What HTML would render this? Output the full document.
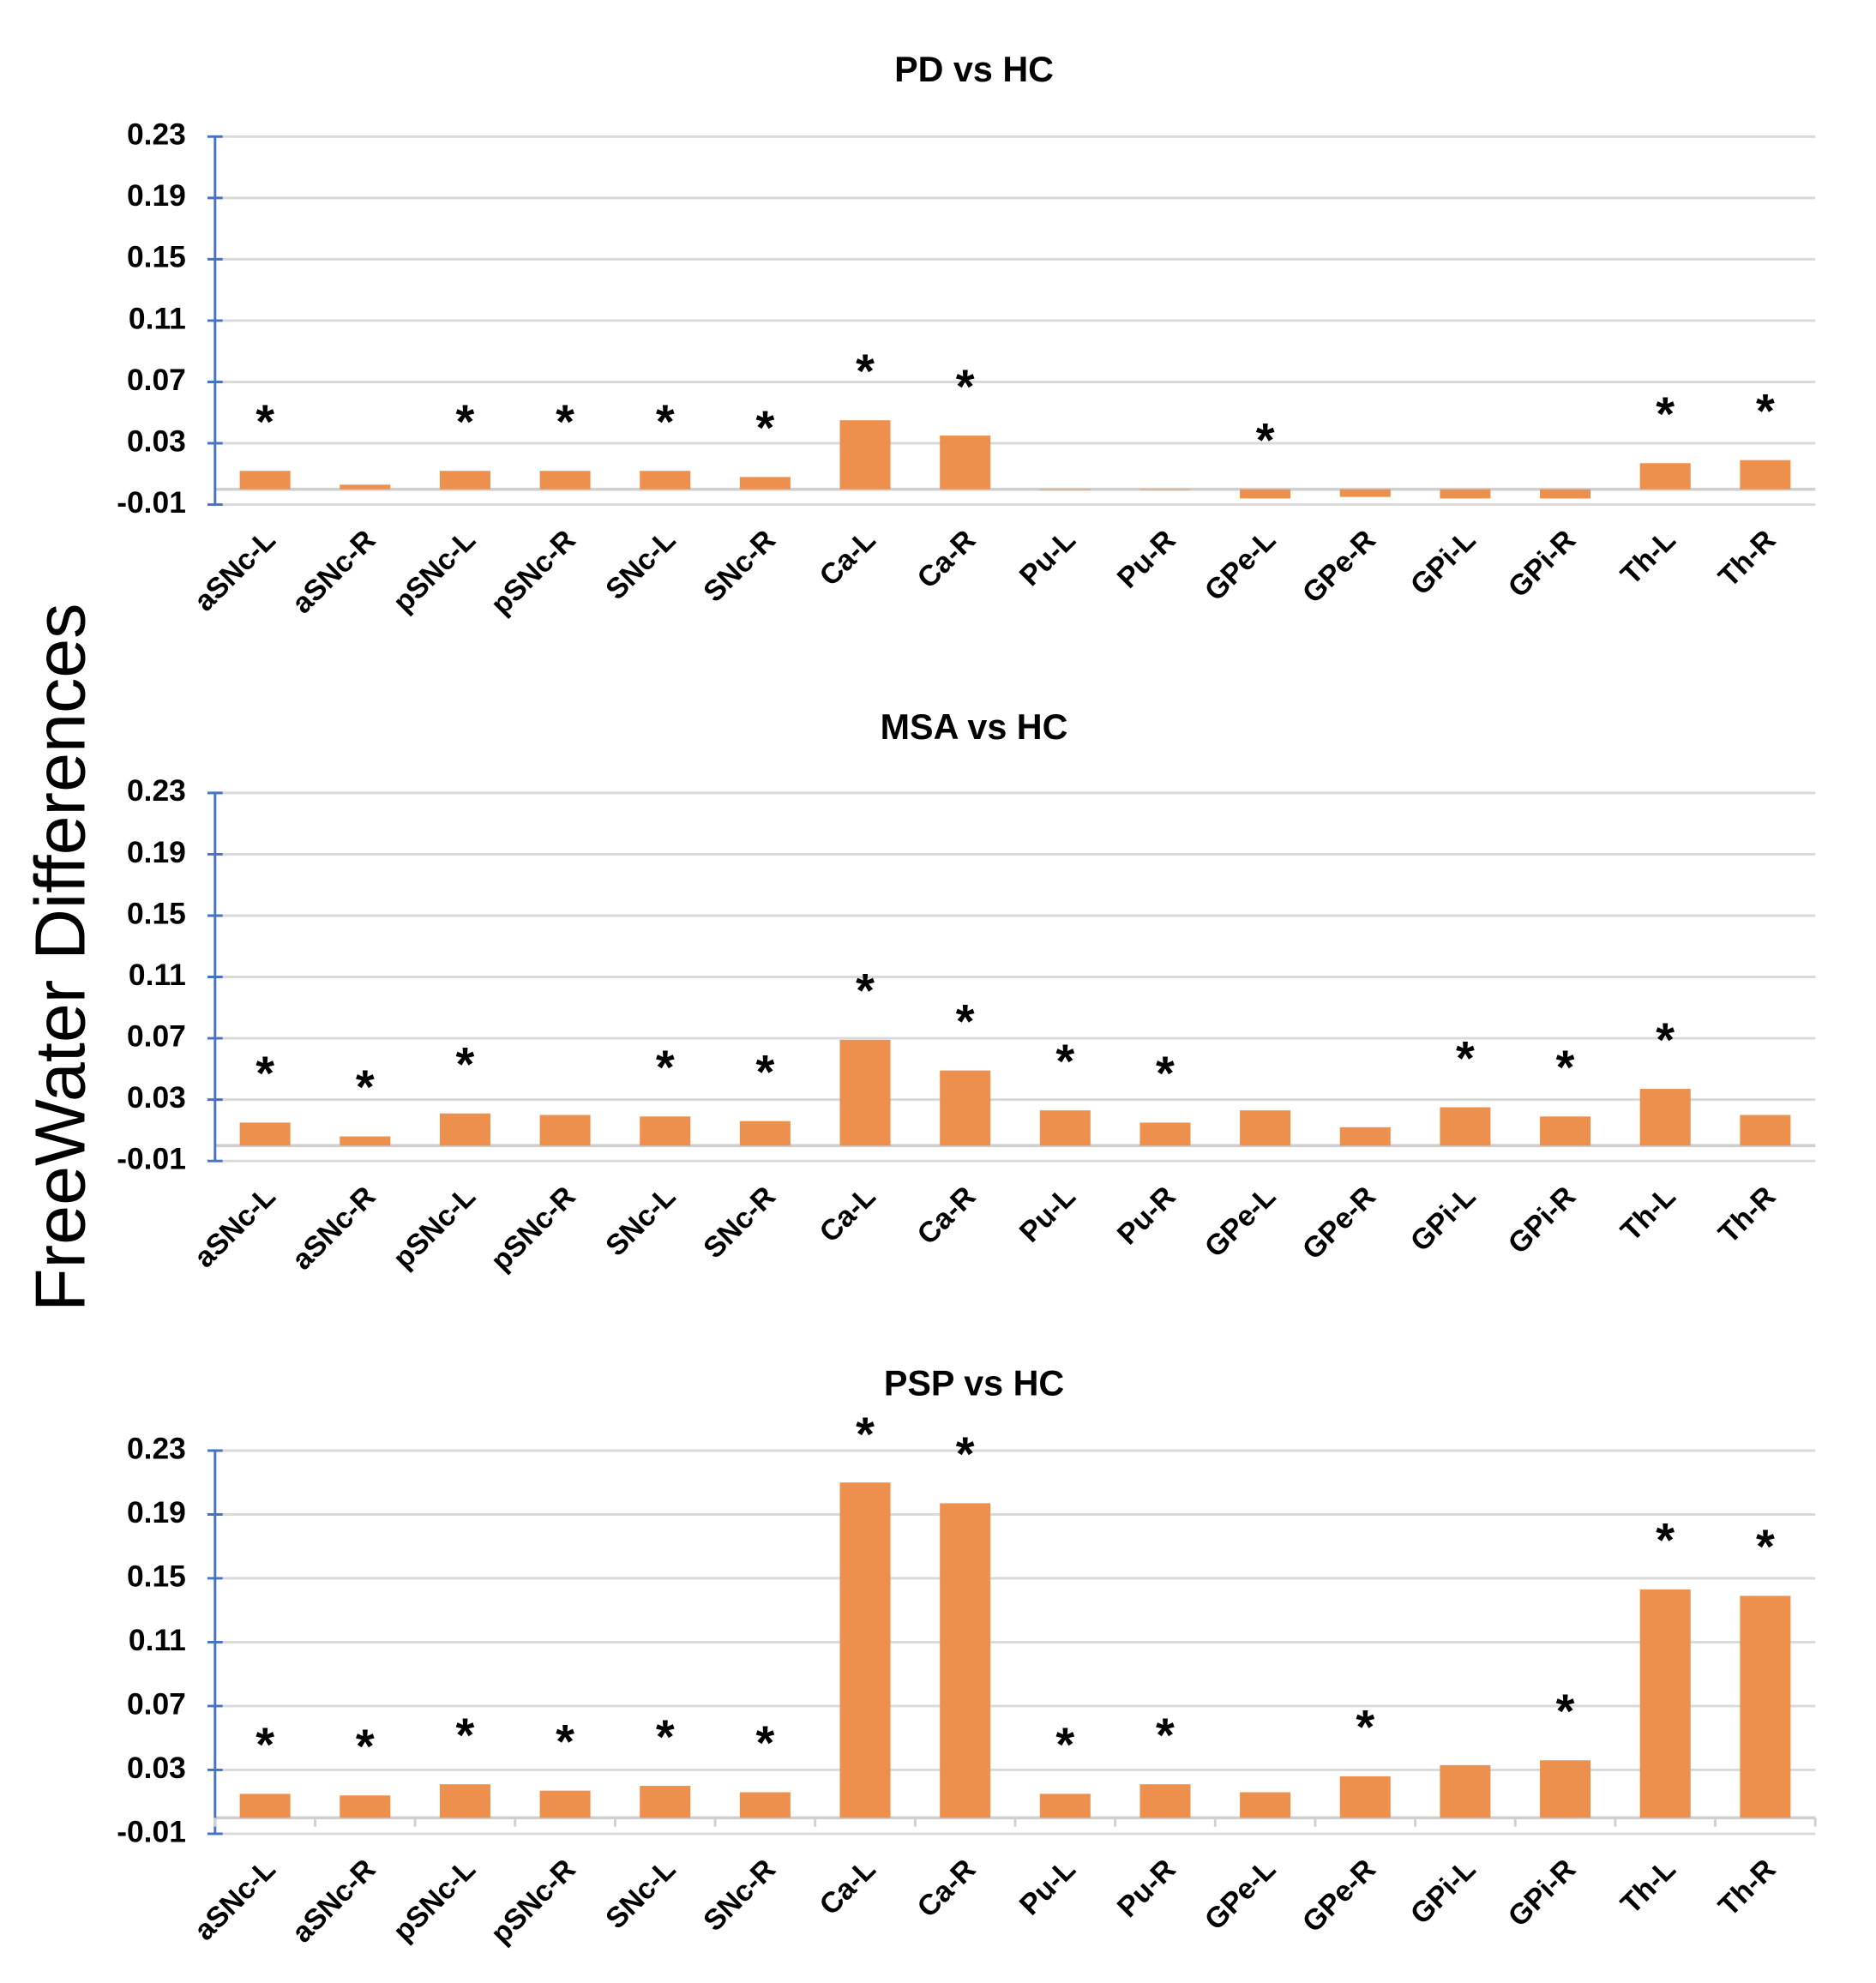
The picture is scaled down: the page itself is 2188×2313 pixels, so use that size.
<!DOCTYPE html>
<html><head><meta charset="utf-8"><style>
html,body{margin:0;padding:0;background:#fff;}
svg{display:block;font-family:"Liberation Sans",Arial,sans-serif;}
</style></head><body>
<svg id="chart" width="2188" height="2313" viewBox="0 0 1483 1568" preserveAspectRatio="none" xmlns="http://www.w3.org/2000/svg">
<text x="52" y="757" transform="rotate(-90 52 757)" text-anchor="middle" dominant-baseline="middle" font-size="56" fill="#000">FreeWater Differences</text>
</svg>
<script>
const categories=["aSNc-L","aSNc-R","pSNc-L","pSNc-R","SNc-L","SNc-R","Ca-L","Ca-R","Pu-L","Pu-R","GPe-L","GPe-R","GPi-L","GPi-R","Th-L","Th-R"];
const tickLabels=["-0.01","0.03","0.07","0.11","0.15","0.19","0.23"];
const tickValues=[-0.01,0.03,0.07,0.11,0.15,0.19,0.23];
const titles=["PD vs HC","MSA vs HC","PSP vs HC"];
const pdValues=[0.012,0.003,0.012,0.012,0.012,0.008,0.045,0.035,0,0,-0.006,-0.005,-0.006,-0.006,0.017,0.019];
const pdStars=[1,0,1,1,1,1,1,1,0,0,1,0,0,0,1,1];
const msaValues=[0.015,0.006,0.021,0.02,0.019,0.016,0.069,0.049,0.023,0.015,0.023,0.012,0.025,0.019,0.037,0.02];
const msaStars=[1,1,1,0,1,1,1,1,1,1,0,0,1,1,1,0];
const pspValues=[0.015,0.014,0.021,0.017,0.02,0.016,0.21,0.197,0.015,0.021,0.016,0.026,0.033,0.036,0.143,0.139];
const pspStars=[1,1,1,1,1,1,1,1,1,1,0,1,0,1,1,1];

const svg=document.getElementById('chart');
const NS='http://www.w3.org/2000/svg';
function mk(tag,attrs,parent){const e=document.createElementNS(NS,tag);for(const k in attrs)e.setAttribute(k,attrs[k]);(parent||svg).appendChild(e);return e;}
const panels=[
 {vals:pdValues,stars:pdStars,titleY:57,top:108,bot:399,sep:false},
 {vals:msaValues,stars:msaStars,titleY:577,top:627,bot:918,sep:false},
 {vals:pspValues,stars:pspStars,titleY:1096,top:1147,bot:1450,sep:true}
];
const X0=170,X1=1435;
panels.forEach((p,pi)=>{
  const g=mk('g',{});
  
  
  const y=v=>p.bot-(v-(-0.01))/0.24*(p.bot-p.top);
  const step=(X1-X0)/categories.length;
  const x=i=>X0+step*(i+0.5);
  const t=mk('text',{x:770,y:p.titleY,'text-anchor':'middle','dominant-baseline':'middle','font-size':28,'font-weight':'bold'},g);
  t.textContent=titles[pi];
  
  
  tickValues.forEach((v,i)=>{
    const gl=mk('line',{x1:X0,x2:X1,y1:y(v),y2:y(v),stroke:'#d9d9d9','stroke-width':2},g);
    
    
    mk('line',{x1:X0-6,x2:X0+6,y1:y(v),y2:y(v),stroke:'#4472c4','stroke-width':2},g);
    const tl=mk('text',{x:147,y:y(v),'text-anchor':'end','dominant-baseline':'middle','font-size':24,'font-weight':'bold'},g);
    tl.textContent=tickLabels[i];
    
    
  });
  const zl=mk('line',{x1:X0,x2:X1,y1:y(0),y2:y(0),stroke:'#cfcfcf','stroke-width':2.5},g);
  
  
  const ax=mk('line',{x1:X0,x2:X0,y1:y(0.23),y2:y(-0.01),stroke:'#4472c4','stroke-width':2},g);
  
  
  if(p.sep){for(let i=0;i<=categories.length;i++){mk('line',{x1:X0+step*i,x2:X0+step*i,y1:y(0),y2:y(0)+7,stroke:'#d0d0d0','stroke-width':2},g);}}
  p.vals.forEach((v,i)=>{
    const yt=Math.min(y(v),y(0)),yb=Math.max(y(v),y(0));
    const r=mk('rect',{x:x(i)-20,y:yt,width:40,height:Math.max(yb-yt,0.5),fill:'#ed8f4d'},g);
    
    
    if(p.stars[i]){
      const s=mk('text',{x:x(i),y:Math.max(yt-36,p.top-10),'text-anchor':'middle','dominant-baseline':'middle','font-size':38,'font-weight':'bold'},g);
      s.textContent='*';
      
      
    }
    const lx=x(i)-2,ly=p.bot+18;
    const cl=mk('text',{x:lx,y:ly,'text-anchor':'end','dominant-baseline':'hanging','font-size':23,'font-weight':'bold',transform:`rotate(-45 ${lx} ${ly})`},g);
    cl.textContent=categories[i];
    
    
  });
});
</script>
</body></html>
